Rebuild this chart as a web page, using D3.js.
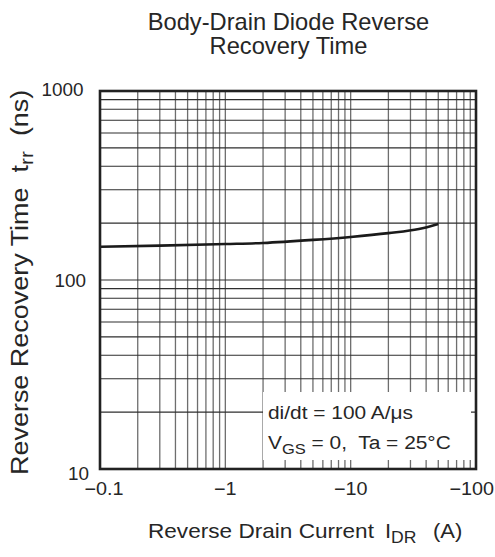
<!DOCTYPE html>
<html><head><meta charset="utf-8">
<script src="https://cdn.jsdelivr.net/npm/d3@7"></script>
<style>html,body{margin:0;padding:0;background:#fff;} svg{display:block;} text{font-family:"Liberation Sans",Arial,sans-serif;fill:#262626;white-space:pre;}</style>
</head><body>
<script>
// Data
const currentA = [0.1, 0.3, 1, 2, 5, 10, 20, 35, 50];          // |I_DR| (A)
const trrNs    = [150, 152, 155, 157, 163, 169, 177, 186, 198];  // t_rr (ns)
const xTickValues = [0.1, 1, 10, 100];
const xTickLabels = ["\u22120.1", "\u22121", "\u221210", "\u2212100"];
const yTickValues = [10, 100, 1000];
const yTickLabels = ["10", "100", "1000"];
const titleLines = ["Body-Drain Diode Reverse", "Recovery Time"];

const W = 495, H = 557;
const svg = d3.select("body").append("svg").attr("width", W).attr("height", H);
const L = 100, R = 476, T = 91, B = 469;
const x = d3.scaleLog().domain([0.1, 100]).range([L, R]);
const y = d3.scaleLog().domain([10, 1000]).range([B, T]);

function txt(px, py, anchor, size, sx) {
  return svg.append("text")
    .attr("transform", `translate(${px},${py}) scale(${sx},1)`)
    .attr("text-anchor", anchor).attr("font-size", size);
}

// Title
txt(288.5, 29.5, "middle", 23, 1.03).text(titleLines[0]);
txt(288.5, 53.5, "middle", 23, 1.03).text(titleLines[1]);

// Grid
const g = svg.append("g");
g.selectAll("line.v").data(x.ticks()).enter().append("line")
  .attr("x1", d => x(d)).attr("x2", d => x(d)).attr("y1", T).attr("y2", B)
  .attr("stroke", "#6e6e6e").attr("stroke-width", 1.3);
g.selectAll("line.h").data(y.ticks()).enter().append("line")
  .attr("x1", L).attr("x2", R).attr("y1", d => y(d)).attr("y2", d => y(d))
  .attr("stroke", "#2e2e2e").attr("stroke-width", 1.1);

// Curve
const line = d3.line().x((d, i) => x(currentA[i])).y(d => y(d)).curve(d3.curveMonotoneX);
svg.append("path").attr("d", line(trrNs)).attr("fill", "none")
  .attr("stroke", "#1a1a1a").attr("stroke-width", 2.6);

// Legend box
svg.append("rect").attr("x", 263).attr("y", 392).attr("width", 208).attr("height", 68).attr("fill", "#fff");
txt(268, 418.5, "start", 19, 1.1).text("di/dt = 100 A/\u03bcs");
const l2 = txt(268, 448.5, "start", 19, 1.1);
l2.append("tspan").text("V");
l2.append("tspan").attr("font-size", 15).attr("dy", 5).text("GS");
l2.append("tspan").attr("dy", -5).text(" = 0,  Ta = 25\u00b0C");

// Frame
svg.append("rect").attr("x", L).attr("y", T).attr("width", R - L).attr("height", B - T)
  .attr("fill", "none").attr("stroke", "#222").attr("stroke-width", 2.6);

// X tick labels
xTickValues.forEach((v, i) => {
  const last = i === xTickValues.length - 1;
  txt(last ? x(v) + 18 : x(v) + (i === 0 ? 4 : 0), 494.5, last ? "end" : "middle", 18, 1.1).text(xTickLabels[i]);
});
// Y tick labels
const yOff = [[89, 11], [86, 6.5], [83.5, 5]];
yTickValues.forEach((v, i) => {
  txt(yOff[i][0], y(v) + yOff[i][1], "end", 18, 1.05).text(yTickLabels[i]);
});

// X axis label
txt(148, 537.5, "start", 20, 1.13).text("Reverse Drain Current");
const xl = txt(385, 537.5, "start", 20, 1.1);
xl.append("tspan").text("I");
xl.append("tspan").attr("font-size", 16).attr("dy", 5).text("DR");
txt(433, 537.5, "start", 20, 1.1).text("(A)");

// Y axis label
const yl = svg.append("text").attr("transform", "translate(28,475) rotate(-90) scale(1.1,1)")
  .attr("text-anchor", "start").attr("font-size", 24.5);
yl.append("tspan").text("Reverse Recovery Time  t");
yl.append("tspan").attr("font-size", 19).attr("dy", 5).text("rr");
yl.append("tspan").attr("dy", -5).text("  (ns)");
</script>
</body></html>
